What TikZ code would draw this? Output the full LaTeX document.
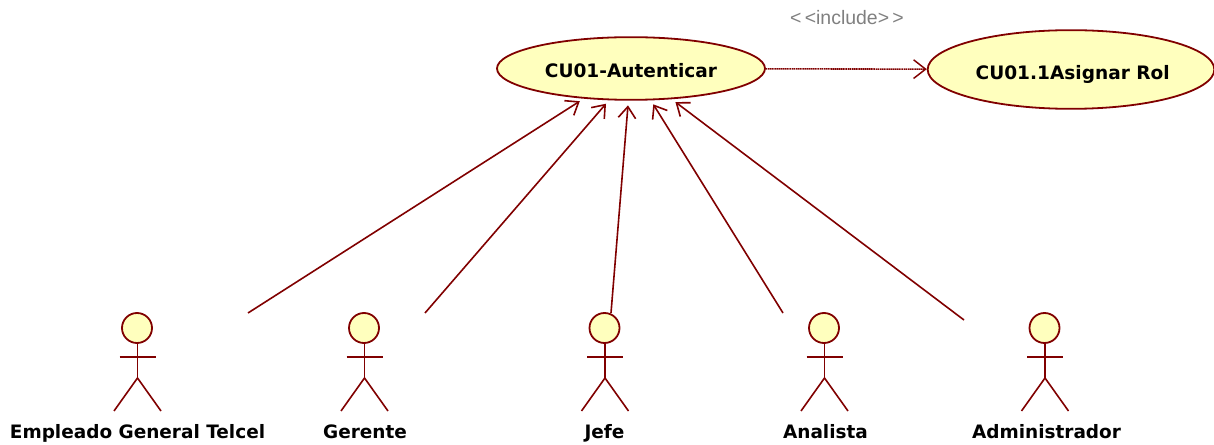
\documentclass[tikz,border=0pt]{standalone}
\usepackage{fontspec}
\setmainfont{DejaVu Sans}
\newfontfamily\thinfont{Liberation Sans}
\usetikzlibrary{arrows.meta,shapes.geometric}
\definecolor{umlred}{RGB}{128,0,0}
\definecolor{umlfill}{RGB}{255,255,190}
\tikzset{
  x=0.75pt,y=-0.75pt,
  usecase/.style={ellipse,draw=umlred,fill=umlfill,line width=1.35pt,inner sep=0pt,font=\fontsize{13.9}{16}\selectfont\bfseries,text depth=0pt},
  head/.style={circle,draw=umlred,fill=umlfill,line width=1.35pt,minimum size=22.5pt,inner sep=0pt},
  limb/.style={draw=umlred,line width=1.2pt},
  actorname/.style={font=\fontsize{13.85}{16}\selectfont\bfseries,text=black,inner sep=0pt,anchor=base},
  assoc/.style={draw=umlred,line width=1.2pt,-{Straight Barb[length=8.5pt,width=13pt,line width=1.2pt]},shorten >=3.5pt},
  incl/.style={draw=umlred,line width=1.2pt,dash pattern=on 1pt off 0.4pt,-{Straight Barb[length=9pt,width=14pt,line width=1.1pt]}},
}
\newcommand{\actor}[4]{%
  % #1 name, #2 x of figure, #3 label text, #4 x of label
  \node[head] (#1head) at (#2-0.5,328) {};
  \coordinate (#1hip) at (#2,378);
  \draw[limb] (#2,343) -- (#1hip);
  \draw[limb] (#2-18,357) -- (#2+18,357);
  \draw[limb] (#2-23.5,411) -- (#1hip) -- (#2+23.5,411);
  \node[actorname] (#1name) at (#4,438.5) {#3};
}
\begin{document}
\begin{tikzpicture}
\useasboundingbox (0,0) rectangle (1214,445);
\node[usecase,text height=13.2pt,minimum width=201pt,minimum height=47pt] (uc1) at (631,68.5) {CU01-Autenticar};
\node[usecase,text height=14.7pt,minimum width=215pt,minimum height=59pt] (uc2) at (1071,69.5) {\hspace{2.5pt}CU01.1Asignar Rol};
\actor{a}{137.5}{Empleado General Telcel}{137.5}
\actor{b}{364.5}{Gerente}{365}
\actor{c}{605}{Jefe}{604.5}
\actor{d}{824.5}{Analista}{825.5}
\actor{e}{1045}{Administrador}{1046.5}
\coordinate (ea) at (248,313);
\coordinate (eb) at (425,313);
\coordinate (ec) at (611,313);
\coordinate (ed) at (783,313);
\coordinate (ee) at (964,320);
\foreach \s in {ea,ec,ed,ee} \draw[assoc] (\s) -- (uc1);
\draw[assoc,shorten >=0pt] (eb) -- ([shift={(-18.75pt,-2.25pt)}]uc1.south);
\draw[incl] (uc1) -- (uc2);
\node[text=black!50,font=\thinfont\fontsize{14.6}{16}\selectfont,inner sep=0pt] (lbl) at (847,18) {<\,<include>\,>};
\end{tikzpicture}
\end{document}
